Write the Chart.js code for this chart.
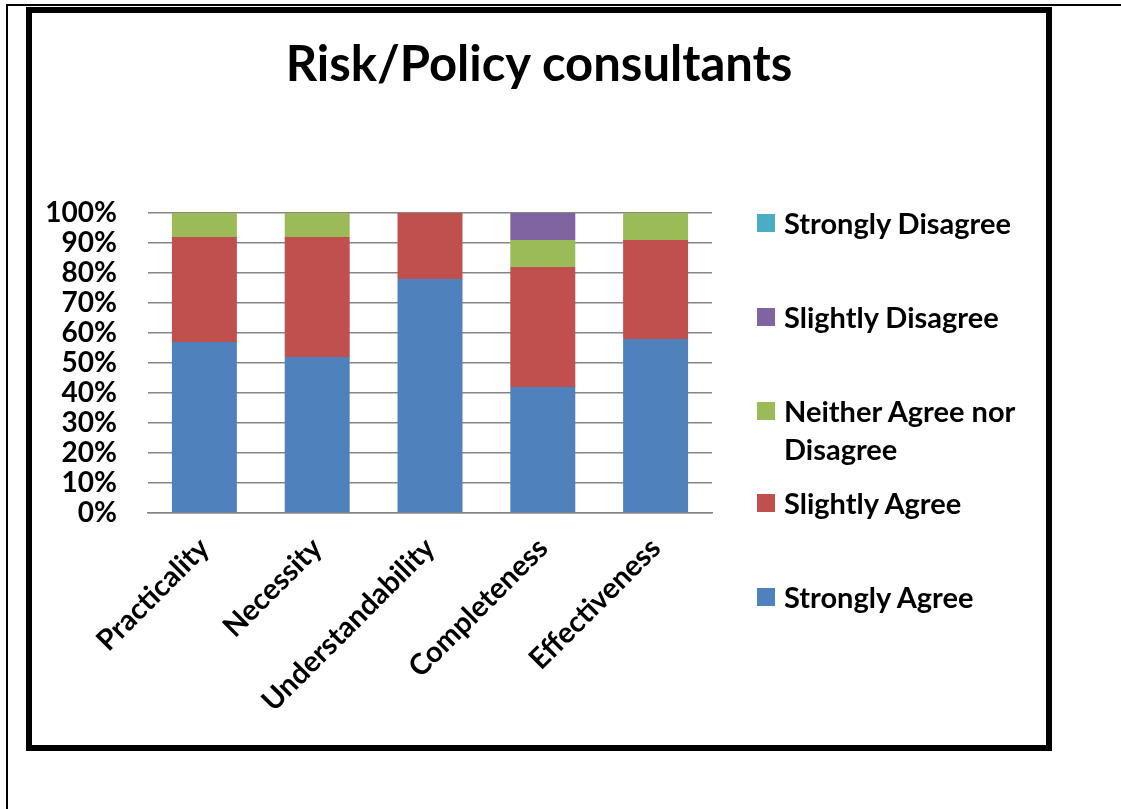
<!DOCTYPE html>
<html>
<head>
<meta charset="utf-8">
<script src="https://cdn.jsdelivr.net/npm/chart.js@4/dist/chart.umd.min.js"></script>
<style>
  body { margin: 0; background: #fff; font-family: Lato, sans-serif; }
  #page { position: relative; width: 1121px; height: 809px; overflow: hidden; }
  .rule { position: absolute; background: #000; }
  #frame { position: absolute; left: 26px; top: 7px; width: 1014px; height: 732px; border: 6px solid #000; }
  #chart { position: absolute; left: 0; top: 0; }
  #title { position: absolute; left: 0; width: 1078px; top: 38px; line-height: 49px; text-align: center; font-weight: 700; font-size: 49px; color: #000; }
  #legend { position: absolute; left: 757px; top: 0; font-weight: 700; font-size: 29px; color: #000; }
  .item { position: absolute; left: 0; white-space: nowrap; }
  .swatch { position: absolute; left: 0; width: 18px; height: 18px; }
  .label { position: absolute; left: 27px; line-height: 38px; }
</style>
</head>
<body>
<div id="page">
  <div class="rule" style="left:6px;top:4px;width:1115px;height:2px"></div>
  <div class="rule" style="left:6px;top:4px;width:2px;height:805px"></div>
  <div id="frame"></div>
  <canvas id="chart" width="1121" height="809"></canvas>
  <div id="title">Risk/Policy consultants</div>
  <div id="legend"></div>
</div>
<script>
const categories = ['Practicality', 'Necessity', 'Understandability', 'Completeness', 'Effectiveness'];

// percentages per category, bottom segment first
const stronglyAgree = [57, 52, 78, 42, 58];
const slightlyAgree = [35, 40, 22, 40, 33];
const neitherAgree = [8, 8, 0, 9, 9];
const slightlyDisagree = [0, 0, 0, 9, 0];
const stronglyDisagree = [0, 0, 0, 0, 0];

const seriesNames = ['Strongly Agree', 'Slightly Agree', 'Neither Agree nor Disagree', 'Slightly Disagree', 'Strongly Disagree'];
const seriesColors = ['#4F81BD', '#C0504D', '#9BBB59', '#8064A2', '#4BACC6'];
const seriesValues = [stronglyAgree, slightlyAgree, neitherAgree, slightlyDisagree, stronglyDisagree];

const yTicks = [0, 10, 20, 30, 40, 50, 60, 70, 80, 90, 100];

new Chart(document.getElementById('chart'), {
  type: 'bar',
  data: {
    labels: categories,
    datasets: seriesNames.map((name, i) => ({
      label: name,
      data: seriesValues[i],
      backgroundColor: seriesColors[i],
      borderWidth: 0,
      barPercentage: 0.576,
      categoryPercentage: 1
    }))
  },
  options: {
    responsive: false,
    animation: false,
    layout: { padding: { left: 0, right: 409, top: 213, bottom: 96 } },
    plugins: {
      legend: { display: false },
      title: { display: false },
      tooltip: { enabled: false }
    },
    scales: {
      x: {
        stacked: true,
        grid: { display: false },
        border: { display: true, color: '#868686', width: 1.5 },
        ticks: {
          color: '#000',
          font: { family: 'Lato', weight: 'bold', size: 29 },
          minRotation: 45,
          maxRotation: 45,
          autoSkip: false,
          padding: 10
        },
        afterFit: scale => { scale.height = 200; }
      },
      y: {
        stacked: true,
        min: 0,
        max: 100,
        afterBuildTicks: scale => { scale.ticks = yTicks.map(v => ({ value: v })); },
        grid: { color: '#868686', lineWidth: 1.5, drawTicks: false },
        border: { display: false },
        ticks: {
          color: '#000',
          font: { family: 'Lato', weight: 'bold', size: 28, lineHeight: 1 },
          autoSkip: false,
          padding: 31,
          callback: v => v + '%'
        },
        afterFit: scale => { scale.width = 148; }
      }
    }
  }
});

// legend, top entry is the last series
const legendTops = [578, 484, 392, 298, 204];
const legend = document.getElementById('legend');
seriesNames.forEach((name, i) => {
  const item = document.createElement('div');
  item.className = 'item';
  item.style.top = legendTops[i] + 'px';
  const sw = document.createElement('div');
  sw.className = 'swatch';
  sw.style.background = seriesColors[i];
  sw.style.top = '10px';
  const lb = document.createElement('div');
  lb.className = 'label';
  lb.innerHTML = name === 'Neither Agree nor Disagree' ? 'Neither Agree nor<br>Disagree' : name;
  item.appendChild(sw);
  item.appendChild(lb);
  legend.appendChild(item);
});
</script>
</body>
</html>
